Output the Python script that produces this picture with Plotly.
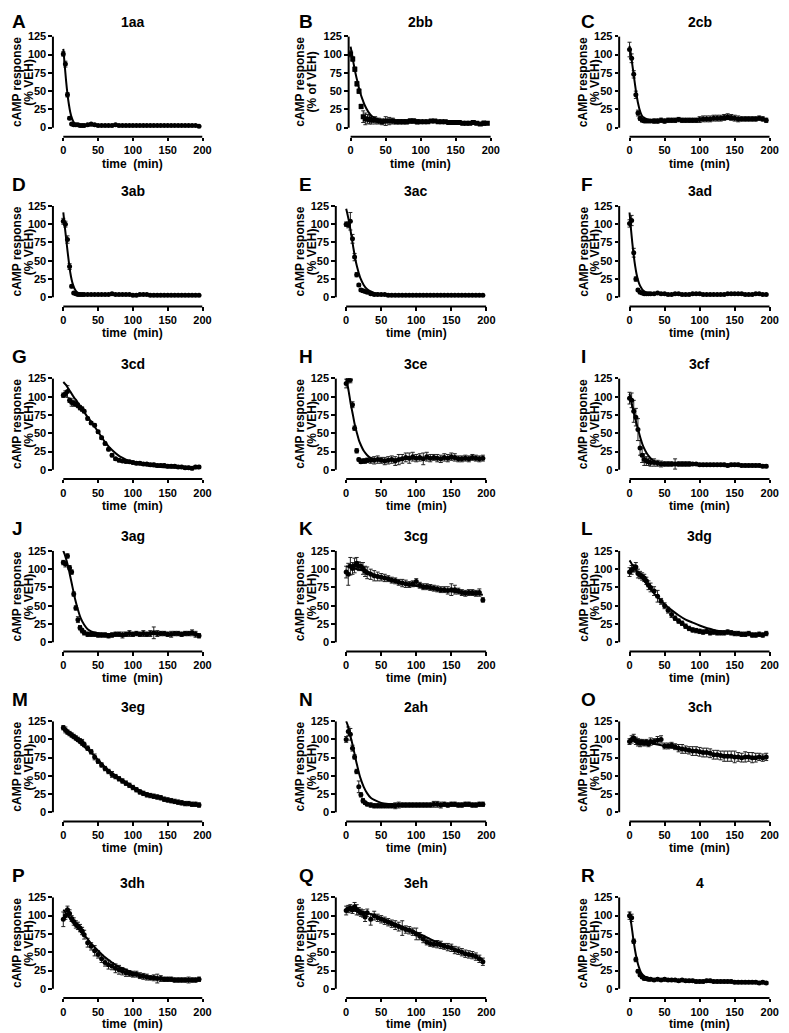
import plotly.graph_objects as go

# ---------------- data ----------------
T = [0, 3, 6, 9, 12, 15, 18, 21, 24, 27, 30,
     35, 40, 45, 50, 55, 60, 65, 70, 75, 80, 85,
     90, 95, 100, 105, 110, 115, 120, 125, 130, 135, 140,
     145, 150, 155, 160, 165, 170, 175, 180, 185, 190, 195]
FT = [0, 2, 4, 6, 8, 10, 12, 14, 16, 18, 20, 25, 30, 35, 40, 50, 60, 70, 80, 90, 100, 120, 140, 160, 180, 195]

letters = ["A", "B", "C", "D", "E", "F", "G", "H", "I", "J", "K", "L", "M", "N", "O", "P", "Q", "R"]
titles = ["1aa", "2bb", "2cb", "3ab", "3ac", "3ad", "3cd", "3ce", "3cf",
          "3ag", "3cg", "3dg", "3eg", "2ah", "3ch", "3dh", "3eh", "4"]
x_ticks = [0, 50, 100, 150, 200]
y_ticks = [0, 25, 50, 75, 100, 125]

y_1aa = [101, 87, 45, 13, 5, 4, 4, 4, 3, 3, 3, 4, 5, 4, 3, 3, 3, 3, 3, 4, 3, 3,
         3, 3, 3, 3, 3, 3, 3, 3, 3, 3, 3, 3, 3, 3, 3, 3, 3, 3, 3, 3, 3, 2]
e_1aa = [3, 4, 3, 2, 1, 1, 1, 1, 1, 1, 1, 1, 1, 1, 1, 1, 1, 1, 1, 1, 1, 1,
         1, 1, 1, 1, 1, 1, 1, 1, 1, 1, 1, 1, 1, 1, 1, 1, 1, 1, 1, 1, 1, 1]
f_1aa = [108, 86, 64, 46, 32, 21, 14, 9, 6, 5, 4, 3.5, 3, 3, 3, 3, 3, 3, 3, 3, 3, 3, 3, 3, 3, 3]

y_2bb = [101, 94, 80, 60, 50, 29, 15, 12, 12, 11, 10, 10, 9, 8, 9, 9, 9, 8, 8, 8, 8, 9,
         9, 8, 8, 8, 8, 9, 9, 8, 8, 8, 7, 7, 7, 7, 6, 6, 6, 7, 6, 5, 6, 6]
e_2bb = [4, 3, 3, 3, 3, 3, 8, 8, 6, 6, 5, 5, 4, 4, 6, 5, 4, 3, 3, 3, 3, 3,
         3, 3, 2, 2, 2, 2, 2, 2, 2, 2, 2, 2, 2, 2, 2, 2, 2, 2, 2, 2, 3, 2]
f_2bb = [111, 100, 89, 79, 70, 62, 54, 47, 41, 36, 31, 22, 16, 13, 11, 9, 8.5, 8, 8, 8, 8, 8, 7.5, 7, 6.5, 6]

y_2cb = [107, 95, 73, 45, 20, 13, 10, 9, 9, 9, 9, 9, 9, 10, 9, 10, 10, 10, 11, 10, 10, 10,
         10, 10, 11, 12, 12, 12, 13, 13, 13, 14, 15, 14, 13, 12, 12, 12, 12, 12, 12, 13, 12, 10]
e_2cb = [10, 6, 5, 5, 4, 3, 2, 2, 2, 2, 2, 3, 3, 3, 3, 3, 3, 3, 3, 3, 3, 3,
         3, 3, 4, 4, 4, 4, 4, 4, 4, 4, 4, 4, 4, 4, 3, 3, 3, 3, 3, 3, 3, 3]
f_2cb = [112, 100, 86, 72, 58, 45, 34, 26, 20, 16, 14, 11.5, 10.5, 10.5, 10.5, 10.5, 10.8, 11, 11, 11, 11.2, 11.5, 11.7, 11.8, 11.8, 11.8]

y_3ab = [104, 100, 79, 42, 15, 6, 5, 4, 4, 4, 4, 4, 4, 4, 4, 4, 4, 4, 5, 4, 4, 4,
         4, 4, 3, 3, 4, 4, 4, 3, 3, 3, 3, 3, 3, 3, 3, 3, 3, 3, 3, 3, 3, 3]
e_3ab = [4, 4, 5, 4, 2, 1, 1, 1, 1, 1, 1, 1, 1, 1, 1, 1, 1, 1, 1, 1, 1, 1,
         1, 1, 1, 1, 1, 1, 1, 1, 1, 1, 1, 1, 1, 1, 1, 1, 1, 1, 1, 1, 1, 1]
f_3ab = [116, 98, 81, 64, 48, 34, 24, 17, 12, 9, 7, 5, 4, 4, 4, 3.8, 3.7, 3.6, 3.5, 3.5, 3.5, 3.5, 3.5, 3.5, 3.5, 3.5]

y_3ac = [100, 99, 104, 80, 55, 31, 17, 10, 9, 8, 7, 5, 4, 4, 4, 4, 3, 3, 3, 3, 3, 3,
         3, 3, 3, 3, 3, 3, 3, 3, 3, 3, 3, 3, 3, 3, 3, 3, 3, 3, 3, 3, 3, 3]
e_3ac = [3, 4, 12, 6, 5, 3, 2, 2, 2, 1, 1, 1, 1, 1, 1, 1, 1, 1, 1, 1, 1, 1,
         1, 1, 1, 1, 1, 1, 1, 1, 1, 1, 1, 1, 1, 1, 1, 1, 1, 1, 1, 1, 1, 1]
f_3ac = [121, 113, 104, 93, 81, 69, 58, 48, 40, 33, 27, 17, 11, 8, 6, 4.5, 4, 3.5, 3.5, 3.5, 3.5, 3.5, 3.5, 3.5, 3.5, 3.5]

y_3ad = [101, 105, 61, 25, 10, 7, 6, 5, 5, 5, 5, 5, 6, 5, 5, 4, 4, 5, 5, 4, 4, 4,
         5, 5, 5, 4, 4, 4, 4, 4, 4, 4, 5, 5, 5, 5, 5, 4, 4, 4, 5, 5, 4, 4]
e_3ad = [5, 7, 6, 3, 2, 1, 1, 1, 1, 1, 1, 1, 1, 1, 1, 1, 1, 1, 1, 1, 1, 1,
         1, 1, 1, 1, 1, 1, 1, 1, 1, 1, 1, 1, 1, 1, 1, 1, 1, 1, 1, 1, 1, 1]
f_3ad = [116, 94, 74, 57, 43, 32, 24, 18, 14, 11, 9, 6, 5, 4.5, 4.5, 4.5, 4.5, 4.5, 4.5, 4.5, 4.5, 4.5, 4.5, 4.5, 4.5, 4.5]

y_3cd = [102, 104, 107, 95, 92, 91, 90, 88, 85, 83, 80, 70, 64, 61, 52, 44, 36, 28, 20, 15, 13, 12,
         11.5, 11, 10, 9, 9, 8, 8, 7, 7, 6, 6, 6, 5, 5, 5, 4, 4, 3, 3, 2, 4, 4]
e_3cd = [3, 4, 8, 3, 5, 4, 3, 3, 3, 3, 2, 2, 2, 2, 2, 2, 2, 2, 2, 2, 2, 2,
         2, 2, 2, 2, 2, 2, 2, 2, 2, 2, 2, 2, 2, 2, 2, 2, 2, 2, 2, 2, 2, 2]
f_3cd = [120, 118, 116, 113, 110, 107, 104, 101, 98, 96, 93, 86, 79, 72, 66, 52, 38, 27, 19, 14, 10, 6, 4, 3, 2.5, 2]

y_3ce = [118, 123, 123, 89, 57, 26, 14, 11, 12, 12, 13, 13, 13, 14, 13, 12, 13, 14, 12, 14, 15, 17,
         16, 18, 16, 17, 15, 18, 16, 17, 16, 15, 17, 16, 18, 17, 15, 15, 16, 15, 17, 16, 15, 16]
e_3ce = [6, 4, 4, 4, 3, 3, 2, 2, 3, 3, 3, 4, 5, 5, 4, 5, 5, 5, 6, 7, 6, 6,
         7, 6, 5, 5, 8, 6, 5, 4, 5, 5, 5, 5, 5, 5, 4, 4, 4, 4, 4, 4, 4, 4]
f_3ce = [125, 116, 105, 93, 83, 73, 63, 55, 48, 41, 36, 26, 20, 16, 15, 14, 14, 14.5, 14.5, 15, 15, 15.5, 15.5, 15.5, 15.5, 15.5]

y_3cf = [98, 95, 80, 72, 55, 30, 20, 14, 12, 11, 10, 10, 9, 8, 8, 8, 8, 8, 8, 8, 8, 8,
         8, 8, 7, 7, 7, 7, 7, 7, 7, 7, 6, 7, 7, 7, 6, 6, 6, 6, 6, 6, 5, 5]
e_3cf = [8, 10, 15, 12, 15, 10, 10, 8, 6, 5, 5, 5, 4, 4, 3, 3, 3, 7, 3, 3, 3, 3,
         2, 2, 2, 2, 2, 2, 2, 2, 2, 2, 2, 2, 2, 2, 2, 2, 2, 2, 2, 2, 2, 2]
f_3cf = [104, 96, 87, 79, 71, 63, 56, 49, 42, 36, 31, 22, 16, 12, 10, 8, 7.5, 7.5, 7.5, 7.2, 7, 7, 6.8, 6.5, 6, 5.5]

y_3ag = [109, 107, 118, 102, 96, 66, 47, 31, 20, 16, 13, 11, 11, 11, 10, 10, 10, 9, 10, 11, 11, 10,
         11, 12, 11, 12, 11, 12, 11, 12, 13, 12, 12, 12, 11, 11, 12, 12, 11, 12, 12, 13, 11, 9]
e_3ag = [3, 4, 3, 3, 3, 3, 3, 4, 3, 3, 3, 3, 3, 3, 3, 3, 3, 3, 3, 3, 3, 4,
         3, 4, 3, 3, 3, 4, 3, 4, 8, 4, 3, 3, 3, 4, 3, 3, 3, 3, 3, 4, 4, 3]
f_3ag = [125, 120, 114, 107, 99, 90, 81, 72, 63, 55, 48, 33, 24, 18, 15, 12.5, 11.5, 11.5, 11.5, 11.5, 11.5, 11.5, 11.5, 11.5, 11.5, 11.5]

y_3cg = [96, 93, 104, 101, 105, 108, 104, 104, 101, 97, 95, 93, 91, 90, 89, 88, 87, 85, 84, 82, 81, 80,
         79, 80, 83, 78, 76, 76, 75, 74, 73, 72, 72, 71, 72, 72, 70, 68, 67, 68, 68, 67, 68, 58]
e_3cg = [8, 15, 12, 8, 10, 8, 6, 5, 8, 7, 8, 7, 7, 6, 5, 5, 4, 4, 4, 4, 5, 5,
         4, 4, 4, 4, 4, 4, 4, 4, 4, 4, 4, 5, 8, 6, 4, 4, 4, 4, 4, 4, 5, 3]
f_3cg = [104, 103.5, 103, 102.5, 102, 101.5, 101, 100.5, 100, 99.5, 99, 98, 96.5, 95, 92, 89, 86, 83, 81, 79, 77, 74, 71, 68, 66, 65]

y_3dg = [96, 99, 101, 103, 94, 92, 90, 88, 84, 78, 75, 70, 63, 56, 50, 44, 38, 33, 29, 26, 22, 19,
         17, 16, 15, 14, 15, 13, 14, 13, 13, 13, 14, 13, 12, 12, 11, 11, 12, 10, 10, 11, 10, 12]
e_3dg = [6, 6, 5, 6, 6, 5, 5, 5, 5, 6, 6, 6, 8, 4, 4, 4, 4, 3, 3, 3, 3, 3,
         3, 3, 3, 3, 3, 3, 3, 3, 3, 3, 3, 3, 3, 3, 3, 3, 3, 3, 3, 3, 3, 3]
f_3dg = [112, 109, 106, 104, 101, 98, 95, 93, 90, 88, 85, 79, 73, 67, 62, 52, 44, 37, 31, 27, 23, 17, 14, 12, 11, 10.5]

y_3eg = [116, 113, 110, 108, 106, 104, 102, 100, 98, 96, 93, 88, 83, 76, 70, 65, 60, 56, 52, 49, 46, 43,
         40, 37, 34, 31, 28, 26, 24, 23, 22, 21, 20, 18, 17, 16, 15, 14, 13, 12, 12, 11, 11, 10]
e_3eg = [3, 4, 3, 3, 3, 3, 3, 3, 3, 4, 3, 3, 3, 4, 3, 3, 3, 3, 4, 3, 3, 3,
         3, 3, 3, 3, 3, 3, 3, 3, 3, 3, 3, 3, 3, 3, 3, 3, 3, 3, 3, 3, 3, 3]
f_3eg = [118, 116, 114, 112, 110, 108, 106, 104, 102, 100, 98, 94, 90, 86, 82, 72, 62, 54, 47, 41, 35, 26, 20, 15, 12, 10]

y_2ah = [100, 111, 107, 88, 76, 56, 35, 24, 16, 13, 11, 10, 9, 9, 9, 9, 9, 9, 9, 10, 10, 10,
         10, 10, 10, 10, 10, 10, 10, 11, 11, 10, 11, 10, 11, 11, 10, 10, 11, 11, 10, 10, 11, 11]
e_2ah = [4, 6, 8, 4, 3, 3, 8, 3, 3, 2, 2, 3, 3, 3, 3, 3, 3, 3, 4, 4, 3, 3,
         3, 3, 3, 3, 3, 3, 3, 4, 4, 4, 3, 3, 3, 3, 3, 3, 3, 3, 3, 3, 3, 3]
f_2ah = [125, 120, 113, 105, 97, 89, 80, 71, 63, 55, 48, 35, 26, 20, 17, 13, 11.5, 11, 10.5, 10.5, 10.5, 10.5, 10.5, 10.5, 10.5, 10.5]

y_3ch = [97, 100, 102, 98, 96, 95, 96, 95, 96, 94, 97, 97, 99, 100, 91, 91, 92, 90, 88, 87, 86, 85,
         84, 84, 83, 82, 82, 81, 79, 79, 78, 77, 77, 77, 76, 76, 75, 76, 76, 75, 75, 76, 75, 76]
e_3ch = [4, 5, 5, 5, 5, 5, 4, 4, 4, 4, 5, 4, 5, 5, 4, 4, 4, 4, 5, 6, 5, 5,
         6, 6, 6, 6, 6, 6, 6, 6, 6, 7, 7, 7, 8, 6, 6, 7, 6, 7, 6, 5, 5, 5]
f_3ch = [100, 99.8, 99.6, 99.4, 99.2, 99, 98.6, 98.2, 97.8, 97.4, 97, 96, 95, 94, 93, 91, 89, 87.5, 86, 84.5, 83, 80, 78, 76, 75, 74]

y_3dh = [95, 100, 108, 103, 96, 92, 88, 86, 83, 79, 74, 63, 58, 52, 47, 41, 36, 33, 31, 28, 26, 24,
         22, 21, 20, 20, 18, 17, 16, 15, 15, 14, 14, 13, 13, 13, 12, 12, 12, 12, 12, 12, 12, 13]
e_3dh = [10, 5, 5, 5, 4, 5, 5, 5, 5, 5, 6, 6, 5, 7, 5, 5, 5, 6, 5, 6, 6, 5,
         5, 4, 4, 4, 4, 4, 4, 3, 4, 6, 4, 3, 3, 3, 3, 3, 3, 3, 4, 3, 3, 3]
f_3dh = [108, 106, 103, 101, 98, 96, 93, 91, 88, 86, 84, 78, 73, 68, 62, 52, 43, 36, 30, 26, 22, 17, 15, 13, 12, 12]

y_3eh = [107, 109, 110, 108, 112, 108, 106, 104, 103, 98, 104, 95, 100, 97, 95, 93, 91, 89, 87, 85, 83, 81,
         80, 78, 75, 72, 68, 64, 62, 61, 61, 60, 58, 57, 56, 53, 52, 50, 48, 47, 46, 44, 41, 37]
e_3eh = [6, 5, 5, 5, 6, 7, 5, 5, 5, 6, 5, 8, 6, 5, 5, 5, 5, 5, 6, 6, 10, 5,
         5, 5, 8, 5, 5, 4, 4, 4, 5, 5, 4, 5, 5, 5, 5, 5, 5, 5, 5, 5, 5, 5]
f_3eh = [110, 110, 109.5, 109.5, 109, 109, 108.5, 108, 107.5, 107, 106, 105, 103.5, 102, 100, 97, 93, 89, 85, 81, 77, 68, 60, 52, 45, 40]

y_4 = [100, 97, 65, 40, 24, 19, 16, 14, 14, 13, 13, 12, 13, 12, 13, 12, 12, 12, 11, 12, 11, 11,
       11, 10, 10, 10, 11, 11, 10, 10, 10, 10, 10, 10, 9, 9, 9, 9, 9, 9, 9, 8, 9, 8]
e_4 = [5, 5, 3, 3, 2, 2, 2, 2, 2, 2, 2, 2, 2, 2, 2, 2, 2, 2, 2, 2, 2, 2,
       2, 2, 2, 2, 2, 2, 2, 2, 2, 2, 2, 2, 2, 2, 2, 2, 2, 2, 2, 2, 2, 2]
f_4 = [105, 92, 78, 64, 52, 42, 34, 28, 23, 20, 18, 15, 13.5, 12.5, 12, 11.5, 11, 11, 11, 10.5, 10.5, 10, 10, 9.5, 9.5, 9]

Y_DATA = [y_1aa, y_2bb, y_2cb, y_3ab, y_3ac, y_3ad, y_3cd, y_3ce, y_3cf,
          y_3ag, y_3cg, y_3dg, y_3eg, y_2ah, y_3ch, y_3dh, y_3eh, y_4]
E_DATA = [e_1aa, e_2bb, e_2cb, e_3ab, e_3ac, e_3ad, e_3cd, e_3ce, e_3cf,
          e_3ag, e_3cg, e_3dg, e_3eg, e_2ah, e_3ch, e_3dh, e_3eh, e_4]
F_DATA = [f_1aa, f_2bb, f_2cb, f_3ab, f_3ac, f_3ad, f_3cd, f_3ce, f_3cf,
          f_3ag, f_3cg, f_3dg, f_3eg, f_2ah, f_3ch, f_3dh, f_3eh, f_4]

for i in range(18):
    assert len(Y_DATA[i]) == len(T), (i, len(Y_DATA[i]))
    assert len(E_DATA[i]) == len(T), (i, len(E_DATA[i]))
    assert len(F_DATA[i]) == len(FT), (i, len(F_DATA[i]))

# ---------------- layout geometry (page pixels) ----------------
W, H = 789, 1033
OFF = 8.0  # default body margin of the html page
FONT = "Liberation Sans, Arial, Helvetica, sans-serif"
col_yaxis_px = [52.5, 339.0, 626.0]
col_x0_px = [63.0, 349.5, 636.5]
col_x200_px = [204.0, 491.5, 778.5]
col_letter_px = [9.0, 300.0, 585.0]
row_y125_px = [30.5, 201.0, 374.5, 548.0, 719.3, 896.5]
row_y0_px = [122.3, 293.0, 466.5, 640.0, 811.0, 988.5]
Y_BELOW = 12.5  # data units between 0 and the detached x axis


def px_x(p):
    return (p - OFF) / W


def px_y(p):
    return 1 - (p - OFF) / H


fig = go.Figure()
annotations = []
shapes = []

for i in range(18):
    r, c = divmod(i, 3)
    n = i + 1
    sfx = "" if n == 1 else str(n)
    yax_px, x0_px, x200_px = col_yaxis_px[c], col_x0_px[c], col_x200_px[c]
    if titles[i] == "2bb":
        yax_px, x0_px, x200_px = 352.0, 354.0, 496.0
    y125, y0 = row_y125_px[r], row_y0_px[r]
    xmin = -(x0_px - yax_px) / (x200_px - x0_px) * 200
    bottom_px = y0 + Y_BELOW * (y0 - y125) / 125
    xdom = [px_x(yax_px), px_x(x200_px)]
    ydom = [px_y(bottom_px), px_y(y125)]

    symbol = "square" if titles[i] == "2bb" else "circle"
    fig.add_trace(go.Scatter(
        x=T, y=Y_DATA[i], mode="markers",
        marker=dict(symbol=symbol, size=5, color="black"),
        error_y=dict(type="data", array=E_DATA[i], thickness=1, width=2, color="#222"),
        xaxis="x" + sfx, yaxis="y" + sfx, showlegend=False))
    fig.add_trace(go.Scatter(
        x=FT, y=F_DATA[i], mode="lines",
        line=dict(color="black", width=2, shape="spline", smoothing=0.8),
        xaxis="x" + sfx, yaxis="y" + sfx, showlegend=False))

    tickfont = dict(family=FONT, size=11, color="black", weight="bold")
    fig.layout["xaxis" + sfx] = dict(
        domain=xdom, range=[xmin, 200.01], anchor="y" + sfx,
        tickvals=x_ticks, ticks="outside", ticklen=3.5, tickwidth=1.5, tickcolor="black",
        showline=False, showgrid=False, zeroline=False, tickfont=tickfont,
        ticklabeloverflow="allow")
    fig.layout["yaxis" + sfx] = dict(
        domain=ydom, range=[-Y_BELOW, 125.01], anchor="x" + sfx,
        tickvals=y_ticks, ticks="outside", ticklen=3.5, tickwidth=1.5, tickcolor="black",
        showline=False, showgrid=False, zeroline=False, tickfont=tickfont,
        ticklabeloverflow="allow")

    # detached Prism-style axis lines
    shapes.append(dict(type="line", xref="x" + sfx + " domain", yref="y" + sfx,
                       x0=0, x1=0, y0=0, y1=125, line=dict(color="black", width=2)))
    shapes.append(dict(type="line", xref="x" + sfx, yref="y" + sfx + " domain",
                       x0=0, x1=200, y0=0, y1=0, line=dict(color="black", width=2)))

    xc_px = (x0_px + x200_px) / 2
    annotations.append(dict(text=titles[i], x=px_x(xc_px), y=px_y(y125 - 14.5),
                            xref="paper", yref="paper", showarrow=False,
                            xanchor="center", yanchor="middle",
                            font=dict(family=FONT, size=14, color="black", weight="bold")))
    ly = 15.5 if r == 0 else y125 - 22
    annotations.append(dict(text=letters[i], x=px_x(col_letter_px[c]), y=px_y(ly),
                            xref="paper", yref="paper", showarrow=False,
                            xanchor="left", yanchor="middle",
                            font=dict(family=FONT, size=19, color="black", weight="bold")))
    t_off = 26.0 if r == 5 else 27.0
    annotations.append(dict(text="time  (min)", x=px_x(xc_px), y=px_y(bottom_px + t_off),
                            xref="paper", yref="paper", showarrow=False,
                            xanchor="center", yanchor="middle",
                            font=dict(family=FONT, size=12, color="black", weight="bold")))
    ymid = px_y((y125 + y0) / 2)
    base = col_yaxis_px[c]
    line2 = "(% of VEH)" if titles[i] == "2bb" else "(% VEH)"
    for txt, off in (("cAMP response", 36.5), (line2, 24.5)):
        annotations.append(dict(text=txt, x=px_x(base - off), y=ymid,
                                xref="paper", yref="paper", showarrow=False,
                                textangle=-90, xanchor="center", yanchor="middle",
                                font=dict(family=FONT, size=12, color="black", weight="bold")))

fig.update_layout(
    width=W, height=H, margin=dict(l=0, r=0, t=0, b=0),
    paper_bgcolor="white", plot_bgcolor="white",
    font=dict(family=FONT, color="black"),
    annotations=annotations, shapes=shapes, showlegend=False)

fig.write_html("out.html")
